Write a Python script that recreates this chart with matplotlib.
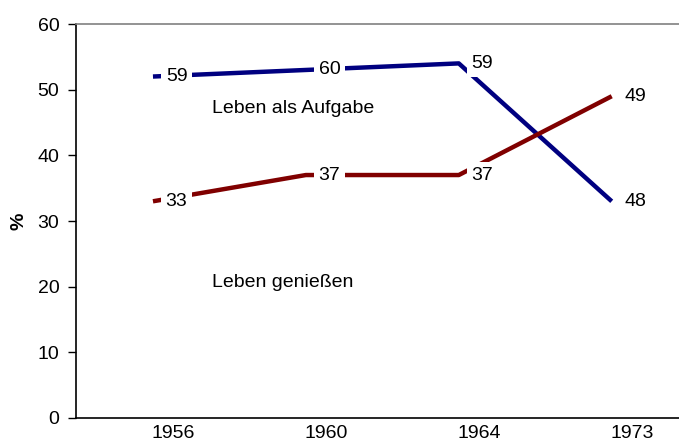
import numpy as np
import matplotlib
matplotlib.use('Agg')
import matplotlib.pyplot as plt
import matplotlib.transforms as mtransforms

plt.rcParams['font.family'] = ['Liberation Sans', 'DejaVu Sans']

years = ['1956', '1960', '1964', '1973']
# line heights as drawn in the original chart
aufgabe_y = [52, 53, 54, 33]
geniessen_y = [33, 37, 37, 49]
# numbers printed next to the points
aufgabe_lbl = ['59', '60', '59', '48']
geniessen_lbl = ['33', '37', '37', '49']

blue = '#000080'
red = '#800000'
fs = 14

fig = plt.figure(figsize=(6.79, 4.42), dpi=100)
ax = fig.add_axes([0.112, 0.0543, 0.888, 0.8914])

x = np.arange(len(years))
ax.plot(x, aufgabe_y, color=blue, lw=3.2, solid_capstyle='butt', zorder=2)
ax.plot(x, geniessen_y, color=red, lw=3.2, solid_capstyle='butt', zorder=2)

for xs, ys, lbls in [(x, aufgabe_y, aufgabe_lbl), (x, geniessen_y, geniessen_lbl)]:
    for xi, yi, t in zip(xs, ys, lbls):
        ax.annotate(t, (xi, yi), xytext=(17, 0), textcoords='offset points',
                    ha='center', va='center', fontsize=fs, zorder=3,
                    bbox=dict(boxstyle='square,pad=0.25', fc='white', ec='none'))

ax.text(0.386, 47.2, 'Leben als Aufgabe', fontsize=fs, va='center', ha='left')
ax.text(0.386, 20.7, 'Leben genießen', fontsize=fs, va='center', ha='left')

ax.set_ylim(0, 60)
ax.set_yticks(range(0, 61, 10))
ax.set_xlim(-0.503, 3.44)
ax.set_xticks(x)
ax.set_xticklabels(years)
ax.tick_params(axis='x', length=0, labelsize=fs, pad=5)
ax.tick_params(axis='y', length=6, width=1, labelsize=fs, pad=6)
shift = mtransforms.ScaledTranslation(20 / 100, 0, fig.dpi_scale_trans)
for lab in ax.get_xticklabels():
    lab.set_transform(lab.get_transform() + shift)

ax.set_ylabel('%', fontsize=fs, fontweight='bold', labelpad=7)
ax.spines['right'].set_visible(False)
ax.spines['top'].set_color('#808080')
ax.spines['top'].set_linewidth(1.2)
ax.spines['left'].set_linewidth(1.2)
ax.spines['bottom'].set_linewidth(1.2)

fig.savefig('out.png', dpi=100)
